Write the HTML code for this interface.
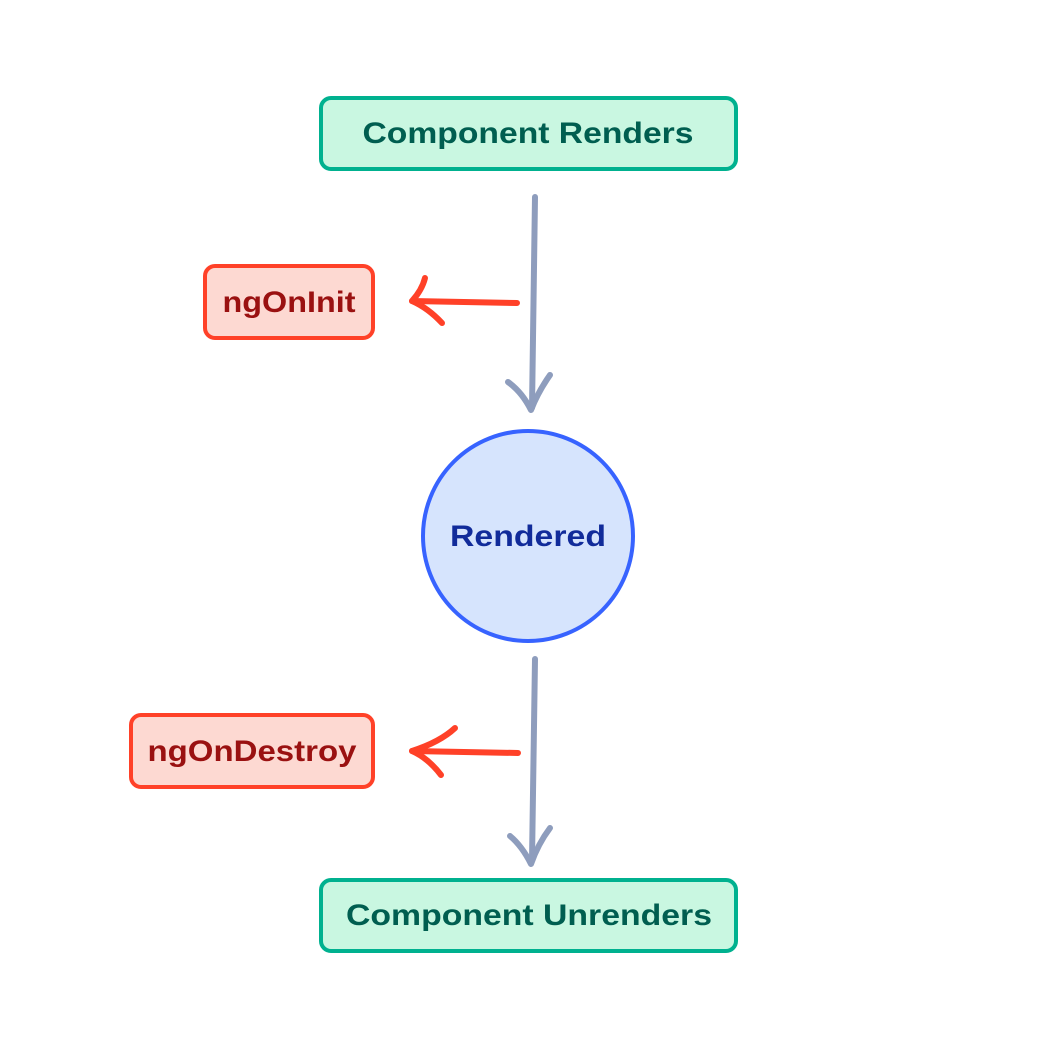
<!DOCTYPE html>
<html><head><meta charset="utf-8"><style>
html,body{margin:0;padding:0;background:#fff;}
body{width:1062px;height:1050px;overflow:hidden;}
</style></head><body>
<svg width="1062" height="1050" viewBox="0 0 1062 1050" xmlns="http://www.w3.org/2000/svg" font-family="Liberation Sans, sans-serif" font-weight="bold">
  <rect x="321" y="98" width="415" height="71" rx="10" fill="#c9f7e1" stroke="#00b18f" stroke-width="4"/>
  <text x="528" y="143" font-size="30" fill="#005e50" text-anchor="middle" textLength="331" lengthAdjust="spacingAndGlyphs">Component Renders</text>

  <rect x="205" y="266" width="168" height="72" rx="10" fill="#fdd9d2" stroke="#ff4128" stroke-width="4"/>
  <text x="289" y="312" font-size="30" fill="#9a1111" text-anchor="middle" textLength="133" lengthAdjust="spacingAndGlyphs">ngOnInit</text>

  <rect x="131" y="715" width="242" height="72" rx="10" fill="#fdd9d2" stroke="#ff4128" stroke-width="4"/>
  <text x="252" y="761" font-size="30" fill="#9a1111" text-anchor="middle" textLength="209" lengthAdjust="spacingAndGlyphs">ngOnDestroy</text>

  <rect x="321" y="880" width="415" height="71" rx="10" fill="#c9f7e1" stroke="#00b18f" stroke-width="4"/>
  <text x="529" y="925" font-size="30" fill="#005e50" text-anchor="middle" textLength="366" lengthAdjust="spacingAndGlyphs">Component Unrenders</text>

  <circle cx="528" cy="536" r="105" fill="#d6e4fd" stroke="#3763ff" stroke-width="4"/>
  <text x="528" y="546" font-size="30" fill="#112b9a" text-anchor="middle" textLength="156" lengthAdjust="spacingAndGlyphs">Rendered</text>

  <g fill="none" stroke="#8e9dbd" stroke-width="6" stroke-linecap="round" stroke-linejoin="round">
    <path d="M535 197 L532 408"/>
    <path d="M508 382 Q522 392 531 410 Q538 392 550 375"/>
    <path d="M535 659 L532 860"/>
    <path d="M510 836 Q522 846 531 864 Q538 844 550 828"/>
  </g>
  <g fill="none" stroke="#ff4128" stroke-width="6" stroke-linecap="round" stroke-linejoin="round">
    <path d="M517 303 L412 301"/>
    <path d="M425 278 Q422 290 412 301 Q428 308 442 323"/>
    <path d="M518 753 L412 751"/>
    <path d="M455 728 Q440 742 412 751 Q428 758 441 775"/>
  </g>
</svg>
</body></html>
